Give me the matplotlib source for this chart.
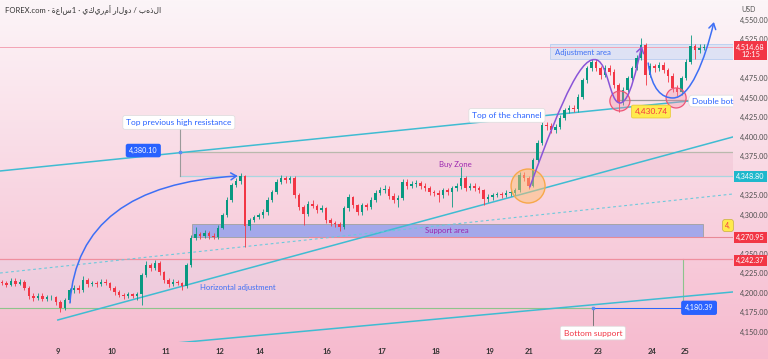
import numpy as np
import matplotlib
matplotlib.use("Agg")
import matplotlib.pyplot as plt
import matplotlib.transforms as mtransforms
from matplotlib.patches import Rectangle, Ellipse, FancyArrowPatch, FancyBboxPatch
from matplotlib.path import Path

plt.rcParams['font.family'] = ['Lato', 'DejaVu Sans']

# --- datos (velas de 1 hora aprox., precio en USD) ---
first_open = 4213
closes = [4212, 4210, 4215, 4211, 4214, 4206, 4196, 4193, 4196, 4192,
          4194, 4194, 4188, 4180, 4190, 4203, 4206, 4203, 4216, 4211,
          4212, 4211, 4214, 4212, 4206, 4201, 4197, 4196, 4198, 4196,
          4198, 4222, 4235, 4231, 4238, 4226, 4216, 4211, 4214, 4212,
          4208, 4235, 4270, 4275, 4273, 4276, 4273, 4271, 4283, 4299,
          4319, 4338, 4343, 4349, 4285, 4293, 4297, 4299, 4303, 4319,
          4329, 4342, 4347, 4344, 4347, 4325, 4310, 4301, 4314, 4311,
          4306, 4308, 4293, 4289, 4288, 4284, 4308, 4322, 4312, 4303,
          4312, 4310, 4319, 4328, 4331, 4333, 4324, 4319, 4321, 4342,
          4337, 4339, 4340, 4337, 4334, 4329, 4328, 4325, 4331, 4329,
          4334, 4337, 4347, 4334, 4337, 4334, 4331, 4320, 4322, 4325,
          4326, 4325, 4328, 4328, 4331, 4351, 4347, 4337, 4370, 4392,
          4415, 4414, 4408, 4412, 4424, 4434, 4437, 4435, 4451, 4472,
          4488, 4496, 4488, 4479, 4488, 4483, 4466, 4444, 4460, 4475,
          4488, 4501, 4517, 4479, 4490, 4488, 4492, 4485, 4478, 4462,
          4457, 4475, 4496, 4516, 4511, 4514, 4514.68]
highs = [4216, 4215, 4218, 4219, 4217, 4216, 4208, 4199, 4199, 4199,
         4197, 4197, 4196, 4190, 4193, 4206, 4210, 4209, 4221, 4218,
         4215, 4215, 4217, 4217, 4214, 4208, 4203, 4200, 4201, 4200,
         4201, 4225, 4240, 4238, 4242, 4240, 4228, 4218, 4217, 4216,
         4214, 4238, 4274, 4284, 4278, 4280, 4279, 4276, 4286, 4302,
         4322, 4341, 4347, 4353, 4351, 4296, 4300, 4302, 4307, 4322,
         4332, 4345, 4351, 4350, 4350, 4349, 4327, 4312, 4317, 4318,
         4314, 4312, 4310, 4296, 4292, 4290, 4311, 4326, 4324, 4314,
         4315, 4315, 4322, 4331, 4335, 4338, 4336, 4327, 4325, 4345,
         4345, 4343, 4344, 4343, 4340, 4336, 4332, 4331, 4334, 4334,
         4337, 4340, 4361, 4350, 4340, 4340, 4337, 4333, 4326, 4328,
         4329, 4329, 4331, 4332, 4334, 4354, 4355, 4349, 4373, 4395,
         4418, 4419, 4417, 4416, 4427, 4437, 4440, 4441, 4454, 4475,
         4491, 4500, 4499, 4491, 4492, 4492, 4486, 4469, 4463, 4478,
         4491, 4504, 4526, 4520, 4494, 4493, 4496, 4495, 4488, 4481,
         4466, 4478, 4499, 4530, 4519, 4518, 4518]
lows = [4209, 4207, 4208, 4208, 4209, 4203, 4192, 4189, 4190, 4189,
        4189, 4191, 4184, 4175, 4178, 4188, 4200, 4199, 4201, 4207,
        4208, 4207, 4208, 4209, 4203, 4197, 4194, 4192, 4193, 4193,
        4190, 4184, 4220, 4228, 4229, 4223, 4212, 4207, 4208, 4209,
        4203, 4206, 4233, 4267, 4268, 4270, 4269, 4268, 4269, 4281,
        4297, 4316, 4335, 4339, 4258, 4280, 4290, 4294, 4296, 4300,
        4316, 4326, 4339, 4341, 4341, 4321, 4306, 4287, 4298, 4308,
        4302, 4303, 4289, 4285, 4284, 4279, 4282, 4305, 4308, 4299,
        4300, 4306, 4307, 4316, 4325, 4328, 4320, 4315, 4309, 4318,
        4333, 4334, 4335, 4333, 4330, 4325, 4324, 4316, 4321, 4325,
        4310, 4330, 4333, 4330, 4331, 4330, 4327, 4312, 4316, 4318,
        4322, 4321, 4322, 4324, 4325, 4329, 4343, 4333, 4335, 4367,
        4389, 4408, 4404, 4405, 4409, 4421, 4430, 4431, 4432, 4448,
        4469, 4484, 4484, 4474, 4476, 4479, 4462, 4431, 4440, 4457,
        4472, 4485, 4498, 4466, 4476, 4483, 4484, 4481, 4470, 4457,
        4452, 4453, 4472, 4493, 4500, 4507, 4511]

day_labels = ['9', '10', '11', '12', '14', '16', '17', '18', '19', '21', '23', '24', '25']
day_ticks = [12.4, 24.4, 36.4, 48.4, 57.3, 72.2, 84.4, 96.4, 108.4, 117.1, 132.4, 144.4, 151.8]
# 4,275 / 4,350 / 4,500 quedan tapados por las etiquetas de color
price_ticks = [4150, 4175, 4200, 4225, 4250, 4300, 4325, 4375, 4400, 4425,
               4450, 4475, 4525, 4550]

# zonas y niveles dibujados (indice de vela, precio)
resist_zone = (39.6, 4348.80, 4380.10)
support_zone = (42.2, 155.8, 4270.95, 4287.4)
adjust_zone = (121.8, 4499.4, 4518.6)
range_box = (151.3, 4180.39, 4242.37)
neckline = (136.7, 152.4, 4447.0)
bottom_support_x = 131.3
last_price = 4514.68
low_double = 4430.74

upper_channel = [(-0.44, 4355.8), (162.4, 4451.3)]
lower_channel = [(12.4, 4164.8), (162.4, 4399.4)]
dotted_line = [(-0.44, 4225.0), (162.4, 4326.3)]
bottom_line = [(38.7, 4135.3), (162.4, 4200.7)]

blue_arc = [(15.1, 4186.6), (16.9, 4337.8), (52.4, 4349.4)]
purple_arc = [(117.3, 4335.3), (125.1, 4459.6), (129.1, 4504.5), (132.2, 4498.1),
              (134.7, 4493.0), (135.1, 4443.0), (137.3, 4443.0),
              (139.6, 4443.0), (141.1, 4491.7), (142.2, 4516.0)]
blue_u = [(143.6, 4494.2), (144.4, 4459.6), (146.7, 4449.4), (149.1, 4449.4),
          (152.9, 4449.4), (156.2, 4498.1), (158.2, 4546.8)]

orange_circle = (116.9, 4336.5)
red_circles = [(137.3, 4445.5), (149.8, 4449.4)]

GREEN = '#089981'
RED = '#f23645'
CYAN = '#3fbcd2'
BLUE = '#2962ff'
PURPLE = '#9c27b0'

XMIN, XMAX = -0.444, 162.44
YMIN, YMAX = 4136.56, 4575.0

fig = plt.figure(figsize=(7.68, 3.59), dpi=100)

# fondo degradado
bg = fig.add_axes([0, 0, 1, 1], zorder=-1)
top = np.array([252, 245, 248]) / 255
bot = np.array([246, 186, 206]) / 255
t = np.linspace(0, 1, 256)[:, None]
grad = top[None, :] * (1 - t) + bot[None, :] * t
bg.imshow(grad[:, None, :], aspect='auto', extent=[0, 1, 0, 1])
bg.axis('off')

ax = fig.add_axes([0, 17 / 359, 733 / 768, 342 / 359])
ax.set_facecolor('none')
ax.set_xlim(XMIN, XMAX)
ax.set_ylim(YMIN, YMAX)
for s in ax.spines.values():
    s.set_visible(False)

# escala px -> datos
px_x = (XMAX - XMIN) / 733
px_y = (YMAX - YMIN) / 342

# zonas
ax.add_patch(Rectangle((XMIN, range_box[1]), range_box[0] - XMIN, range_box[2] - range_box[1],
                       fc=(0.86, 0.88, 0.95, 0.25), ec='none', zorder=1))
ax.plot([XMIN, range_box[0]], [range_box[1]] * 2, color='#8cc48c', lw=0.8, zorder=2)
ax.plot([range_box[0]] * 2, [range_box[1], range_box[2]], color='#8cc48c', lw=0.8, zorder=2)
ax.axhline(range_box[2], color='#ef8f9f', lw=0.9, zorder=2)

ax.add_patch(Rectangle((resist_zone[0], resist_zone[1]), XMAX - resist_zone[0],
                       resist_zone[2] - resist_zone[1], fc=(0.93, 0.72, 0.80, 0.35),
                       ec='none', zorder=1))
ax.plot([resist_zone[0], XMAX], [resist_zone[2]] * 2, color='#b9b9ad', lw=0.9, zorder=2)
ax.plot([resist_zone[0], XMAX], [resist_zone[1]] * 2, color='#a9d6e0', lw=0.9, zorder=2)
ax.plot([resist_zone[0]] * 2, [resist_zone[1], 4418], color='#9a9a9a', lw=0.8, zorder=2)

ax.add_patch(Rectangle((support_zone[0], support_zone[2]), support_zone[1] - support_zone[0],
                       support_zone[3] - support_zone[2], fc='#a4a8ea', ec='#a0a0a0',
                       lw=0.6, zorder=3))
ax.plot([support_zone[0] + 26, XMAX], [support_zone[2]] * 2, color='#e88a96', lw=0.8, zorder=3)

ax.add_patch(Rectangle((adjust_zone[0], adjust_zone[1]), XMAX - adjust_zone[0],
                       adjust_zone[2] - adjust_zone[1], fc=(0.78, 0.86, 0.97, 0.55),
                       ec='#b8cef0', lw=0.6, zorder=2))
ax.axhline(last_price, color='#f3a3b5', lw=0.7, zorder=2)

# lineas de tendencia
for seg in (upper_channel, lower_channel, bottom_line):
    ax.plot([seg[0][0], seg[1][0]], [seg[0][1], seg[1][1]], color=CYAN, lw=1.1, zorder=3)
ax.plot([dotted_line[0][0], dotted_line[1][0]], [dotted_line[0][1], dotted_line[1][1]],
        color='#6cc9dc', lw=0.8, ls=(0, (2.5, 2.5)), zorder=3)

ax.plot([neckline[0], neckline[1]], [neckline[2]] * 2, color='#9a9a9a', lw=0.9, zorder=3)
ax.plot([bottom_support_x, range_box[0]], [range_box[1]] * 2, color=BLUE, lw=0.7, zorder=3)

# velas
idx = np.arange(len(closes))
c = np.array(closes, dtype=float)
o = np.array([first_open] + closes[:-1], dtype=float)
cols = np.where(c >= o, GREEN, RED)
ax.vlines(idx, lows, highs, colors=cols, lw=0.6, zorder=5)
ax.bar(idx, np.maximum(np.abs(c - o), 0.8), bottom=np.minimum(o, c), width=0.62,
       color=cols, lw=0, zorder=6)

# circulos
r = 17
ax.add_patch(Ellipse(orange_circle, 2 * r * px_x, 2 * r * px_y, fc=(1.0, 0.75, 0.45, 0.5),
                     ec='#f7a84a', lw=1.0, zorder=7))
for cc in red_circles:
    ax.add_patch(Ellipse(cc, 20 * px_x, 20 * px_y, fc=(0.95, 0.55, 0.65, 0.35),
                         ec='#ee5577', lw=0.9, zorder=7))

# curvas con flecha
def arrow_path(pts, codes, color):
    p = Path(pts, codes)
    ax.add_patch(FancyArrowPatch(path=p, arrowstyle='->,head_length=4,head_width=2.5',
                                 color=color, lw=1.1, zorder=8, clip_on=False))

arrow_path(blue_arc, [Path.MOVETO, Path.CURVE3, Path.CURVE3], '#3d6ff5')
arrow_path(purple_arc, [Path.MOVETO] + [Path.CURVE4] * 9, '#8a55d8')
arrow_path(blue_u, [Path.MOVETO] + [Path.CURVE4] * 6, '#3d6ff5')

# etiquetas
white_box = dict(boxstyle='round,pad=0.4,rounding_size=0.25', fc='white', ec='#dcdcdc', lw=0.5)
fs = 6
ax.text(39.3, 4418, 'Top previous high resistance', color=BLUE, fontsize=fs,
        ha='center', va='center', bbox=white_box, zorder=9)
ax.text(31.4, 4382, '4,380.10', color='white', fontsize=5.2, ha='center', va='center', zorder=9,
        bbox=dict(boxstyle='round,pad=0.45,rounding_size=0.3', fc=BLUE, ec='none'))
ax.plot([resist_zone[0]], [resist_zone[2]], 's', ms=2, color='#5b8cf5', zorder=9)
ax.text(100.7, 4363.5, 'Buy Zone', color=PURPLE, fontsize=5.6, ha='center', va='center', zorder=9)
ax.text(112.2, 4427, 'Top of the channel', color=BLUE, fontsize=fs, ha='center', va='center',
        bbox=white_box, zorder=9)
ax.text(144.2, 4432, f'{low_double:,.2f}', color=RED, fontsize=fs, ha='center', va='center', zorder=9,
        bbox=dict(boxstyle='round,pad=0.35,rounding_size=0.2', fc='#ffea4d', ec='#e8c830', lw=0.5))
# etiqueta "Double bottom" cortada por el eje de precios, como en la captura
ax.add_patch(FancyBboxPatch((152.6, 4438.0), 12.0, 15.0,
                            boxstyle='round,pad=0,rounding_size=0.8', fc='white', ec='#dcdcdc',
                            lw=0.5, mutation_aspect=8, zorder=9))
ax.text(153.4, 4445.5, 'Double bot', color=BLUE, fontsize=fs, ha='left', va='center', zorder=9)
ax.text(122.9, 4507.5, 'Adjustment area', color='#3d6ff5', fontsize=5.6, ha='left', va='center', zorder=9)
ax.text(98.9, 4279, 'Support area', color=PURPLE, fontsize=5.6, ha='center', va='center', zorder=9)
ax.text(44.0, 4207, 'Horizontal adjustment', color='#3d6ff5', fontsize=5.6, ha='left', va='center', zorder=9)
ax.plot([bottom_support_x] * 2, [range_box[1], 4150], color='#777777', lw=0.7, zorder=8)
ax.plot([bottom_support_x], [range_box[1]], 's', ms=2, color='#5b8cf5', zorder=9)
ax.text(bottom_support_x, 4148, 'Bottom support', color=RED, fontsize=fs, ha='center', va='center',
        bbox=white_box, zorder=9)
ax.text(154.9, range_box[1], f'{range_box[1]:,.2f}', color='white', fontsize=5.2, ha='center',
        va='center', zorder=9, clip_on=False,
        bbox=dict(boxstyle='round,pad=0.5,rounding_size=0.3', fc=BLUE, ec='none'))

# eje de precios
ax.yaxis.tick_right()
ax.set_yticks(price_ticks)
ax.set_yticklabels([f'{p:,.2f}' for p in price_ticks])
ax.tick_params(axis='y', length=0, pad=5, labelsize=5.2, labelcolor='#4d4d4d')
ax.set_xticks(day_ticks)
ax.set_xticklabels(day_labels, fontweight='bold')
ax.tick_params(axis='x', length=0, pad=4, labelsize=5.5, labelcolor='#333333')

tr = mtransforms.blended_transform_factory(ax.transAxes, ax.transData)
axis_x = 1.0 + 17.5 / 733
ax.text(1.0 - 5 / 733, support_zone[3] - 1.5, '4,', color=RED, fontsize=5.2, ha='center',
        va='center', transform=tr, clip_on=False, zorder=9,
        bbox=dict(boxstyle='round,pad=0.35', fc='#ffea4d', ec='#c8b040', lw=0.5))
for price, col, dy in [(resist_zone[1], '#1fb8cc', 0), (support_zone[2], RED, 0),
                       (range_box[2], RED, -1.5)]:
    ax.text(axis_x, price + dy, f'{price:,.2f}', color='white', fontsize=5.2, ha='center',
            va='center', transform=tr, clip_on=False, zorder=10,
            bbox=dict(boxstyle='square,pad=0.25', fc=col, ec='none'))
ax.text(axis_x, last_price - 5, f'{last_price:,.2f}\n12:15', color='white', fontsize=5.2,
        ha='center', va='center', linespacing=1.1, transform=tr, clip_on=False, zorder=10,
        bbox=dict(boxstyle='square,pad=0.3', fc=RED, ec='none'))

title_ar = 'الذهب / دولار أمريكي · 1ساعة'
fig.text(5 / 768, 1 - 10 / 359, 'FOREX.com · ' + title_ar[::-1], fontsize=5.5, color='#333333',
         ha='left', va='center')
fig.text(741 / 768, 1 - 9 / 359, 'USD', fontsize=5, color='#555555', ha='left', va='center')

fig.savefig('out.png', dpi=100)
